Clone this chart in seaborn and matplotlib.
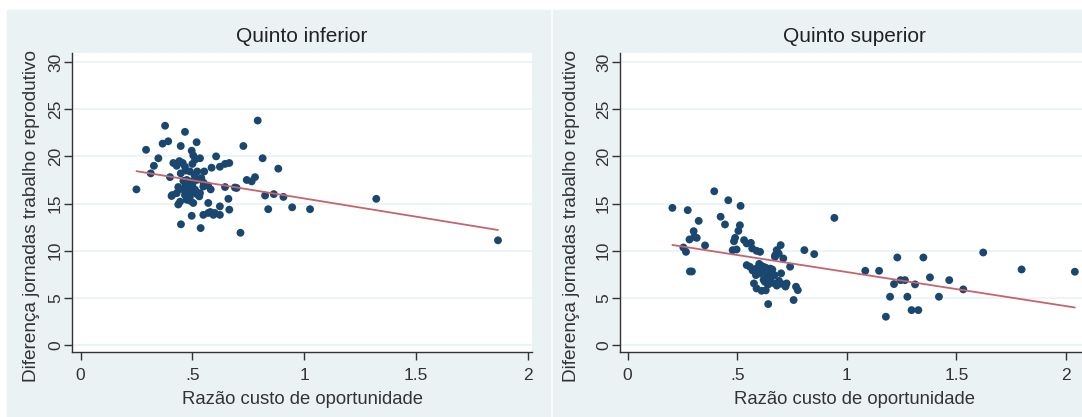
import matplotlib
matplotlib.use("Agg")
import matplotlib.pyplot as plt
import seaborn as sns
import pandas as pd

# Quinto inferior
inf_x = [0.25, 0.293, 0.314, 0.328, 0.348, 0.367, 0.378, 0.392, 0.40, 0.41,
         0.407, 0.415, 0.43, 0.442, 0.457, 0.467, 0.448, 0.448, 0.437, 0.457,
         0.43, 0.467, 0.482, 0.489, 0.445, 0.437, 0.449, 0.467, 0.475, 0.497,
         0.519, 0.489, 0.522, 0.553, 0.497, 0.504, 0.512, 0.519, 0.534, 0.475,
         0.504, 0.531, 0.512, 0.534, 0.549, 0.582, 0.571, 0.497, 0.537, 0.549,
         0.571, 0.594, 0.623, 0.623, 0.586, 0.606, 0.623, 0.646, 0.665, 0.646,
         0.661, 0.665, 0.698, 0.69, 0.715, 0.728, 0.743, 0.765, 0.78, 0.792,
         0.814, 0.825, 0.839, 0.864, 0.884, 0.907, 0.946, 1.026, 1.322, 1.866,
         0.47, 0.48, 0.49, 0.50, 0.51, 0.46, 0.52, 0.49, 0.55, 0.57,
         0.60, 0.47, 0.50, 0.54, 0.58, 0.505]
inf_y = [16.5, 20.7, 18.2, 19.0, 19.8, 21.35, 23.25, 21.6, 17.8, 15.9,
         15.8, 19.3, 19.0, 19.5, 19.3, 18.9, 21.1, 18.2, 16.75, 16.5,
         16.1, 15.9, 16.65, 15.75, 15.2, 14.9, 12.8, 22.6, 17.5, 17.35,
         17.5, 18.4, 18.4, 18.4, 20.6, 20.1, 19.65, 21.5, 19.8, 15.4,
         15.06, 15.76, 16.47, 16.1, 16.8, 16.5, 15.06, 13.7, 12.4, 13.8,
         14.0, 13.8, 13.8, 14.7, 18.8, 20.0, 18.9, 19.2, 19.3, 16.75,
         15.5, 14.35, 16.65, 16.7, 11.9, 21.1, 17.5, 17.35, 17.8, 23.8,
         19.8, 15.85, 14.4, 16.0, 18.7, 15.7, 14.6, 14.4, 15.5, 11.1,
         17.0, 16.1, 16.8, 17.0, 18.0, 17.4, 16.0, 15.3, 17.2, 16.9,
         14.0, 18.5, 19.2, 17.7, 14.1, 16.2]

# Quinto superior
sup_x = [0.204, 0.274, 0.395, 0.459, 0.515, 0.324, 0.424, 0.444, 0.301, 0.304,
         0.282, 0.315, 0.353, 0.254, 0.266, 0.284, 0.293, 0.512, 0.505, 0.49,
         0.485, 0.479, 0.497, 0.531, 0.543, 0.562, 0.568, 0.588, 0.604, 0.543,
         0.558, 0.588, 0.604, 0.619, 0.585, 0.576, 0.588, 0.611, 0.626, 0.634,
         0.649, 0.641, 0.672, 0.68, 0.698, 0.71, 0.689, 0.673, 0.741, 0.725,
         0.768, 0.776, 0.757, 0.806, 0.851, 0.943, 1.084, 1.147, 1.178, 1.197,
         1.215, 1.23, 1.245, 1.265, 1.276, 1.311, 1.295, 1.326, 1.349, 1.379,
         1.42, 1.467, 1.531, 1.622, 1.797, 2.04,
         0.60, 0.62, 0.63, 0.64, 0.65, 0.66, 0.67, 0.68, 0.69, 0.70,
         0.72, 0.66, 0.63, 0.62, 0.70, 0.57, 0.61, 0.65]
sup_y = [14.54, 14.3, 16.3, 15.35, 14.75, 13.16, 13.6, 12.78, 12.07, 11.47,
         11.19, 11.36, 10.56, 10.34, 9.88, 7.8, 7.8, 12.7, 12.1, 11.36,
         11.0, 10.06, 10.13, 11.12, 10.77, 10.83, 10.24, 9.99, 9.88, 8.47,
         8.29, 8.12, 7.59, 8.29, 7.41, 6.53, 6.0, 5.75, 6.7, 7.23,
         7.59, 4.34, 9.35, 10.06, 10.59, 9.18, 9.7, 9.53, 8.3, 6.53,
         6.18, 5.82, 4.77, 10.06, 9.64, 13.48, 7.87, 7.87, 3.0, 5.12,
         6.46, 9.28, 6.88, 6.88, 5.12, 6.43, 3.7, 3.7, 9.28, 7.17,
         5.12, 6.88, 5.9, 9.81, 8.01, 7.77,
         8.6, 7.9, 8.2, 6.4, 7.0, 6.6, 7.4, 6.3, 6.8, 6.5,
         6.2, 8.0, 5.8, 6.9, 7.6, 7.9, 8.4, 8.1]

titulos = ["Quinto inferior", "Quinto superior"]
x_ticks = [0, 0.5, 1, 1.5, 2]
x_ticklabels = ["0", ".5", "1", "1.5", "2"]
y_ticks = [0, 5, 10, 15, 20, 25, 30]

sns.set_style("white")
plt.rcParams["font.family"] = ["Liberation Sans", "DejaVu Sans"]

fundo = "#EAF2F3"
azul = "#1A476F"
vermelho = "#C4656C"
texto = "#333333"

fig = plt.figure(figsize=(10.82, 4.17), dpi=100)
fig.patch.set_facecolor("white")

# fundo de cada painel (estilo Stata)
fig.add_artist(plt.Rectangle((7 / 1082, 0), 543 / 1082, 407 / 417,
                             transform=fig.transFigure, color=fundo, zorder=-2))
fig.add_artist(plt.Rectangle((553 / 1082, 0), 529 / 1082, 407 / 417,
                             transform=fig.transFigure, color=fundo, zorder=-2))

ax1 = fig.add_axes([72 / 1082, 65 / 417, 460 / 1082, 299 / 417])
ax2 = fig.add_axes([620 / 1082, 65 / 417, 468 / 1082, 299 / 417])

dados = [pd.DataFrame({"x": inf_x, "y": inf_y}),
         pd.DataFrame({"x": sup_x, "y": sup_y})]
limites_x = [(-0.038, 2.018), (-0.035, 2.1)]
pos_ylabel = [-32 / 460, -40 / 468]

for ax, df, titulo, xlim, px in zip([ax1, ax2], dados, titulos, limites_x, pos_ylabel):
    ax.set_facecolor("white")
    sns.regplot(x="x", y="y", data=df, ax=ax, ci=None,
                scatter_kws={"s": 32, "color": azul, "edgecolor": "none", "alpha": 1, "zorder": 3},
                line_kws={"color": vermelho, "lw": 1.3, "zorder": 4})
    ax.set_xlim(*xlim)
    ax.set_ylim(-0.74, 30.96)
    ax.set_xticks(x_ticks)
    ax.set_xticklabels(x_ticklabels)
    ax.set_yticks(y_ticks)
    ax.set_yticklabels([str(v) for v in y_ticks], rotation=90, va="center")
    ax.yaxis.grid(True, color=fundo, lw=1.2)
    ax.xaxis.grid(False)
    ax.set_axisbelow(True)
    for lado in ["top", "right"]:
        ax.spines[lado].set_visible(False)
    for lado in ["left", "bottom"]:
        ax.spines[lado].set_color(texto)
        ax.spines[lado].set_linewidth(1.0)
    ax.tick_params(axis="both", direction="out", length=5.5, width=1, color=texto,
                   labelsize=12.5, labelcolor=texto, left=True, bottom=True)
    ax.tick_params(axis="x", pad=6)
    ax.tick_params(axis="y", pad=1)
    ax.set_title(titulo, fontsize=15, color="#222222", pad=8)
    ax.set_xlabel("Razão custo de oportunidade", fontsize=13.3, color=texto, labelpad=6)
    ax.set_ylabel("Diferença jornadas trabalho reprodutivo", fontsize=13.7, color=texto)
    ax.yaxis.set_label_coords(px, 0.455)

fig.savefig("out.png", dpi=100)
